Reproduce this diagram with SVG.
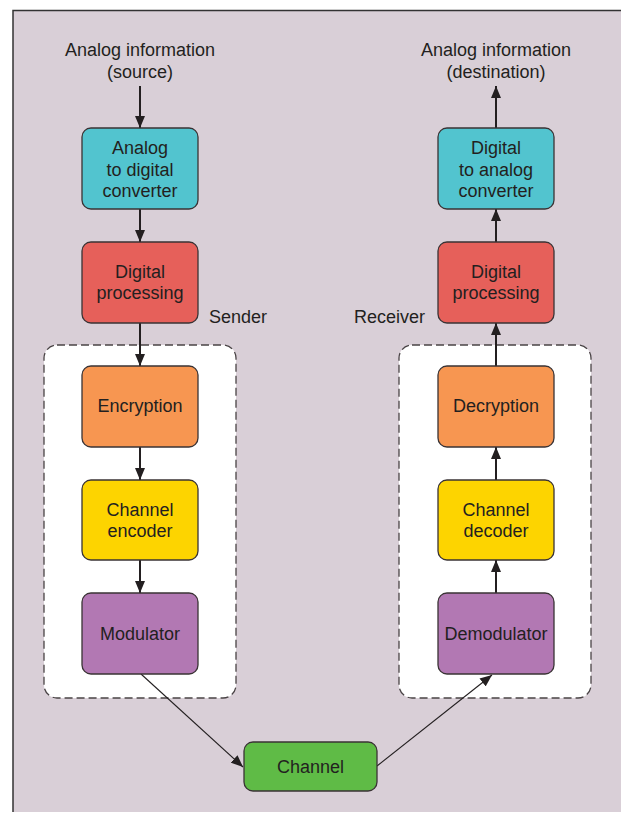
<svg xmlns="http://www.w3.org/2000/svg" width="621" height="813" viewBox="0 0 621 813">
<style>
text{font-family:"Liberation Sans",Arial,sans-serif;font-size:18px;fill:#231f20;text-anchor:middle}
.box{stroke:#3a3335;stroke-width:1.3}
.dash{fill:#fff;stroke:#4a4446;stroke-width:1.3;stroke-dasharray:8 4}
.ar{stroke:#231f20;stroke-width:2;fill:none}
.thin{stroke:#231f20;stroke-width:1.1;fill:none}
</style>
<defs>
<marker id="ah" viewBox="0 0 12 10" refX="12" refY="5" markerWidth="12" markerHeight="10" markerUnits="userSpaceOnUse" orient="auto">
<path d="M0,0 L12,5 L0,10 Z" fill="#231f20"/>
</marker>
</defs>
<rect x="0" y="0" width="621" height="813" fill="#fff"/>
<rect x="13" y="10" width="608" height="802" fill="#d9cfd7"/>
<path d="M13,812 V10.5 H621" fill="none" stroke="#333" stroke-width="1.5"/>

<rect class="dash" x="44" y="345" width="192" height="353" rx="13"/>
<rect class="dash" x="399" y="345" width="192" height="353" rx="13"/>

<text x="140" y="56">Analog information</text>
<text x="140" y="78">(source)</text>
<text x="496" y="56">Analog information</text>
<text x="496" y="78">(destination)</text>
<text x="209" y="323" style="text-anchor:start">Sender</text>
<text x="425" y="323" style="text-anchor:end">Receiver</text>

<g id="connectors">
<line class="ar" x1="140" y1="86" x2="140" y2="128" marker-end="url(#ah)"/>
<line class="ar" x1="140" y1="209" x2="140" y2="242" marker-end="url(#ah)"/>
<line class="ar" x1="140" y1="323" x2="140" y2="366" marker-end="url(#ah)"/>
<line class="ar" x1="140" y1="447" x2="140" y2="480" marker-end="url(#ah)"/>
<line class="ar" x1="140" y1="560" x2="140" y2="593" marker-end="url(#ah)"/>
<line class="thin" x1="141" y1="674" x2="243" y2="767" marker-end="url(#ah)"/>
<line class="thin" x1="377" y1="766" x2="492" y2="675" marker-end="url(#ah)"/>
<line class="ar" x1="496" y1="593" x2="496" y2="560" marker-end="url(#ah)"/>
<line class="ar" x1="496" y1="480" x2="496" y2="447" marker-end="url(#ah)"/>
<line class="ar" x1="496" y1="366" x2="496" y2="323" marker-end="url(#ah)"/>
<line class="ar" x1="496" y1="242" x2="496" y2="209" marker-end="url(#ah)"/>
<line class="ar" x1="496" y1="128" x2="496" y2="86" marker-end="url(#ah)"/>
</g>

<g id="adc"><rect class="box" x="82" y="128" width="116" height="81" rx="9" fill="#52c4cf"/>
<text x="140" y="154">Analog</text><text x="140" y="175.5">to digital</text><text x="140" y="197">converter</text></g>
<g id="dp-send"><rect class="box" x="82" y="242" width="116" height="81" rx="9" fill="#e6605a"/>
<text x="140" y="277.5">Digital</text><text x="140" y="299">processing</text></g>
<g id="enc"><rect class="box" x="82" y="366" width="116" height="81" rx="9" fill="#f79651"/>
<text x="140" y="411.5">Encryption</text></g>
<g id="chenc"><rect class="box" x="82" y="480" width="116" height="80" rx="9" fill="#fdd400"/>
<text x="140" y="515.5">Channel</text><text x="140" y="537">encoder</text></g>
<g id="mod"><rect class="box" x="82" y="593" width="116" height="81" rx="9" fill="#b278b3"/>
<text x="140" y="639.5">Modulator</text></g>

<g id="dac"><rect class="box" x="438" y="128" width="116" height="81" rx="9" fill="#52c4cf"/>
<text x="496" y="154">Digital</text><text x="496" y="175.5">to analog</text><text x="496" y="197">converter</text></g>
<g id="dp-recv"><rect class="box" x="438" y="242" width="116" height="81" rx="9" fill="#e6605a"/>
<text x="496" y="277.5">Digital</text><text x="496" y="299">processing</text></g>
<g id="dec"><rect class="box" x="438" y="366" width="116" height="81" rx="9" fill="#f79651"/>
<text x="496" y="411.5">Decryption</text></g>
<g id="chdec"><rect class="box" x="438" y="480" width="116" height="80" rx="9" fill="#fdd400"/>
<text x="496" y="515.5">Channel</text><text x="496" y="537">decoder</text></g>
<g id="demod"><rect class="box" x="438" y="593" width="116" height="81" rx="9" fill="#b278b3"/>
<text x="496" y="639.5">Demodulator</text></g>

<g id="channel"><rect class="box" x="244" y="742" width="133" height="49" rx="9" fill="#5fbb46"/>
<text x="310.5" y="772.5">Channel</text></g>
</svg>
